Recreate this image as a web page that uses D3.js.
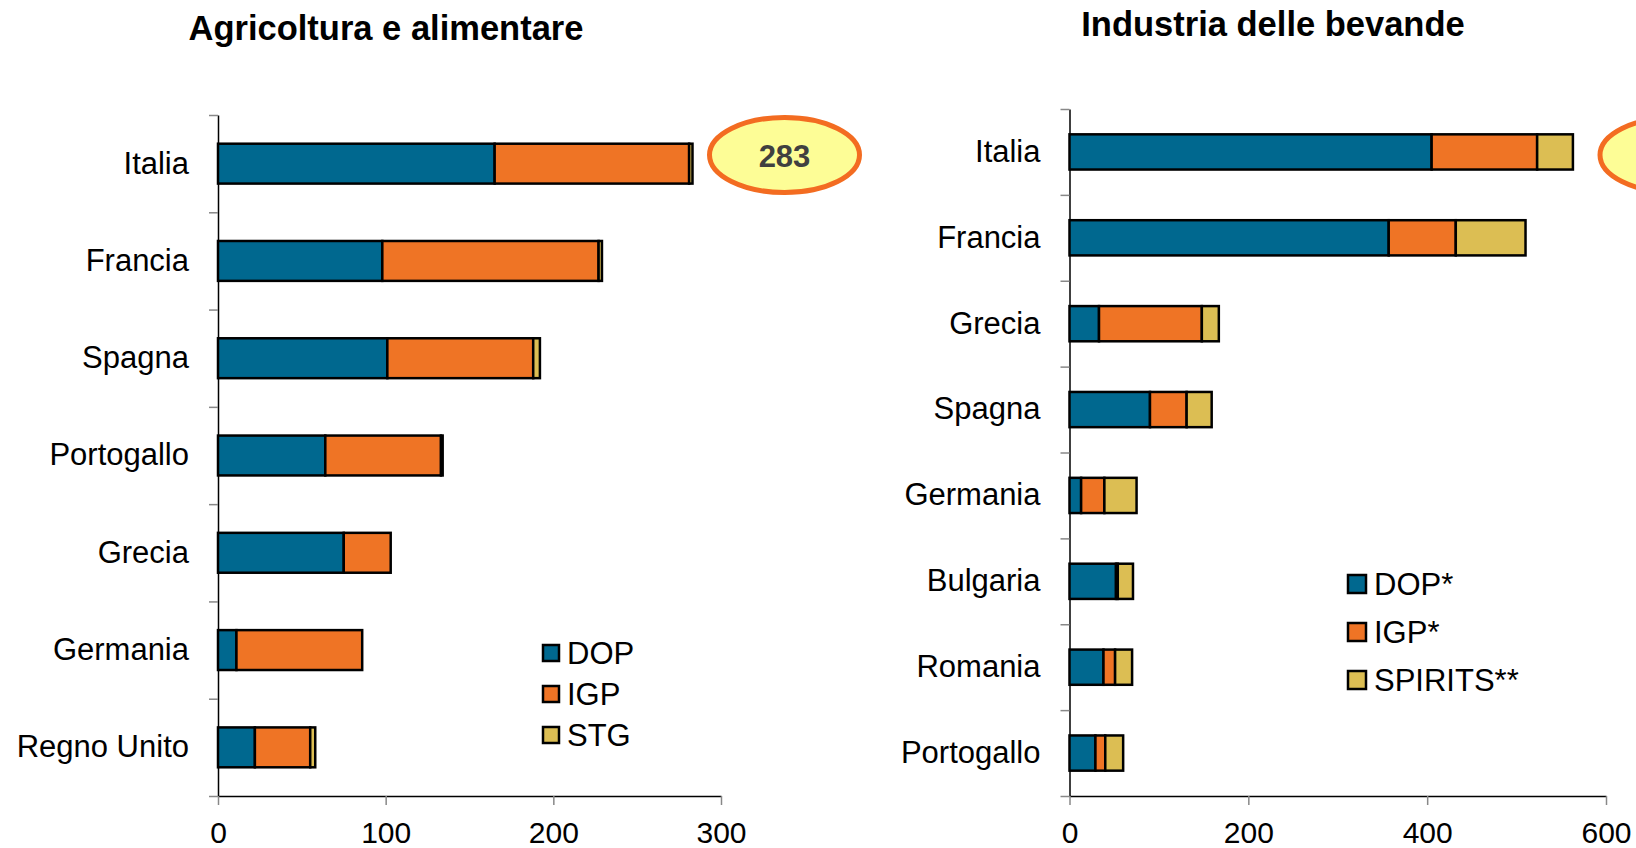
<!DOCTYPE html>
<html>
<head>
<meta charset="utf-8">
<script src="https://cdn.jsdelivr.net/npm/d3@7"></script>
<style>
  body { margin: 0; background: #fff; font-family: "Liberation Sans", Arial, sans-serif; }
</style>
</head>
<body>
<div id="chart"></div>
<script>
// Agricoltura e alimentare
const agriCountries = ["Italia", "Francia", "Spagna", "Portogallo", "Grecia", "Germania", "Regno Unito"];
const agriDOP = [165, 98, 101, 64, 75, 11, 22];
const agriIGP = [116, 129, 87, 69, 28, 75, 33];
const agriSTG = [2, 2, 4, 1, 0, 0, 3];
const agriKeys = ["DOP", "IGP", "STG"];
const agriTicks = [0, 100, 200, 300];

// Industria delle bevande
const bevCountries = ["Italia", "Francia", "Grecia", "Spagna", "Germania", "Bulgaria", "Romania", "Portogallo"];
const bevDOP = [405, 357, 33, 90, 13, 52, 38, 29];
const bevIGP = [118, 75, 115, 41, 26, 2, 13, 11];
const bevSpirits = [40, 78, 19, 28, 36, 17, 19, 20];
const bevKeys = ["DOP*", "IGP*", "SPIRITS**"];
const bevTicks = [0, 200, 400, 600];

const colors = ["#00688f", "#ef7425", "#dcbe53"];

const svg = d3.select("#chart")
  .append("svg")
    .attr("width", 1636)
    .attr("height", 848);

function drawPanel(p) {
  const n = p.countries.length;
  const rows = p.countries.map((c, i) => {
    const r = { country: c };
    p.keys.forEach((k, j) => r[k] = p.series[j][i]);
    return r;
  });
  const stacked = d3.stack().keys(p.keys)(rows);

  const x = d3.scaleLinear()
    .domain([0, p.ticks[p.ticks.length - 1]])
    .range(p.xRange);

  const y = d3.scaleBand()
    .domain(p.countries)
    .range(p.yRange)
    .paddingInner(0.59)
    .paddingOuter(0.295);

  // title
  svg.append("text")
    .attr("x", p.titleX)
    .attr("y", p.titleY)
    .attr("text-anchor", "middle")
    .style("font-size", "34.5px")
    .style("font-weight", "bold")
    .text(p.title);

  // band boundary ticks on the y axis
  const yIdx = d3.scaleLinear().domain([0, n]).range(p.yRange);
  const yAxis = svg.append("g")
    .attr("transform", `translate(${p.xRange[0]},0)`)
    .call(d3.axisLeft(yIdx).tickValues(d3.range(n + 1)).tickFormat("").tickSize(9).tickSizeOuter(0));
  yAxis.select(".domain").attr("stroke", "#000").attr("stroke-width", 1.5);
  yAxis.selectAll(".tick line").attr("stroke", "#888").attr("stroke-width", 1.5);

  // category labels
  const yLab = svg.append("g")
    .attr("transform", `translate(${p.xRange[0]},0)`)
    .call(d3.axisLeft(y).tickSize(0).tickPadding(29));
  yLab.select(".domain").remove();
  yLab.selectAll("text")
    .attr("fill", "#000")
    .style("font-size", "31px")
    .style("font-family", "'Liberation Sans', Arial, sans-serif");

  // x axis
  const xAxis = svg.append("g")
    .attr("transform", `translate(0,${p.yRange[1]})`)
    .call(d3.axisBottom(x).tickValues(p.ticks).tickSize(9).tickSizeOuter(0).tickPadding(17));
  xAxis.select(".domain").attr("stroke", "#000").attr("stroke-width", 1.5);
  xAxis.selectAll(".tick line").attr("stroke", "#888").attr("stroke-width", 1.5);
  xAxis.selectAll("text")
    .attr("fill", "#000")
    .style("font-size", "30px")
    .style("font-family", "'Liberation Sans', Arial, sans-serif");

  // stacked bars
  svg.append("g")
    .selectAll("g")
    .data(stacked)
    .join("g")
      .attr("fill", (d, i) => colors[i])
    .selectAll("rect")
    .data(d => d.filter(s => s[1] > s[0]))
    .join("rect")
      .attr("x", d => x(d[0]))
      .attr("y", d => y(d.data.country))
      .attr("width", d => x(d[1]) - x(d[0]))
      .attr("height", y.bandwidth())
      .attr("stroke", "#000")
      .attr("stroke-width", 2.5);

  // legend
  const leg = svg.append("g")
    .selectAll("g")
    .data(p.keys)
    .join("g")
      .attr("transform", (d, i) => `translate(${p.legX},${p.legY + i * p.legStep})`);
  leg.append("rect")
    .attr("x", 0)
    .attr("y", -p.legBox / 2)
    .attr("width", p.legBox)
    .attr("height", p.legBox)
    .attr("fill", (d, i) => colors[i])
    .attr("stroke", "#000")
    .attr("stroke-width", 2.5);
  leg.append("text")
    .attr("x", p.legBox + 8)
    .attr("y", 11)
    .style("font-size", "31px")
    .text(d => d);

  // total bubble
  const tot = d3.sum(p.series, s => s[0]);
  svg.append("ellipse")
    .attr("cx", p.bubbleX)
    .attr("cy", 155)
    .attr("rx", 75)
    .attr("ry", 37.5)
    .attr("fill", "#fdfd96")
    .attr("stroke", "#f36c21")
    .attr("stroke-width", 5);
  if (p.bubbleX < 1600) {
    svg.append("text")
      .attr("x", p.bubbleX)
      .attr("y", 167)
      .attr("text-anchor", "middle")
      .attr("fill", "#404040")
      .style("font-size", "31px")
      .style("font-weight", "bold")
      .text(tot);
  }
}

drawPanel({
  title: "Agricoltura e alimentare", titleX: 386, titleY: 40,
  countries: agriCountries, series: [agriDOP, agriIGP, agriSTG], keys: agriKeys, ticks: agriTicks,
  xRange: [218, 721], yRange: [115, 796],
  legX: 543, legY: 653, legStep: 41, legBox: 16,
  bubbleX: 784.5
});

drawPanel({
  title: "Industria delle bevande", titleX: 1273, titleY: 36,
  countries: bevCountries, series: [bevDOP, bevIGP, bevSpirits], keys: bevKeys, ticks: bevTicks,
  xRange: [1069.5, 1606], yRange: [109, 796],
  legX: 1348, legY: 584, legStep: 48, legBox: 18,
  bubbleX: 1675
});
</script>
</body>
</html>
